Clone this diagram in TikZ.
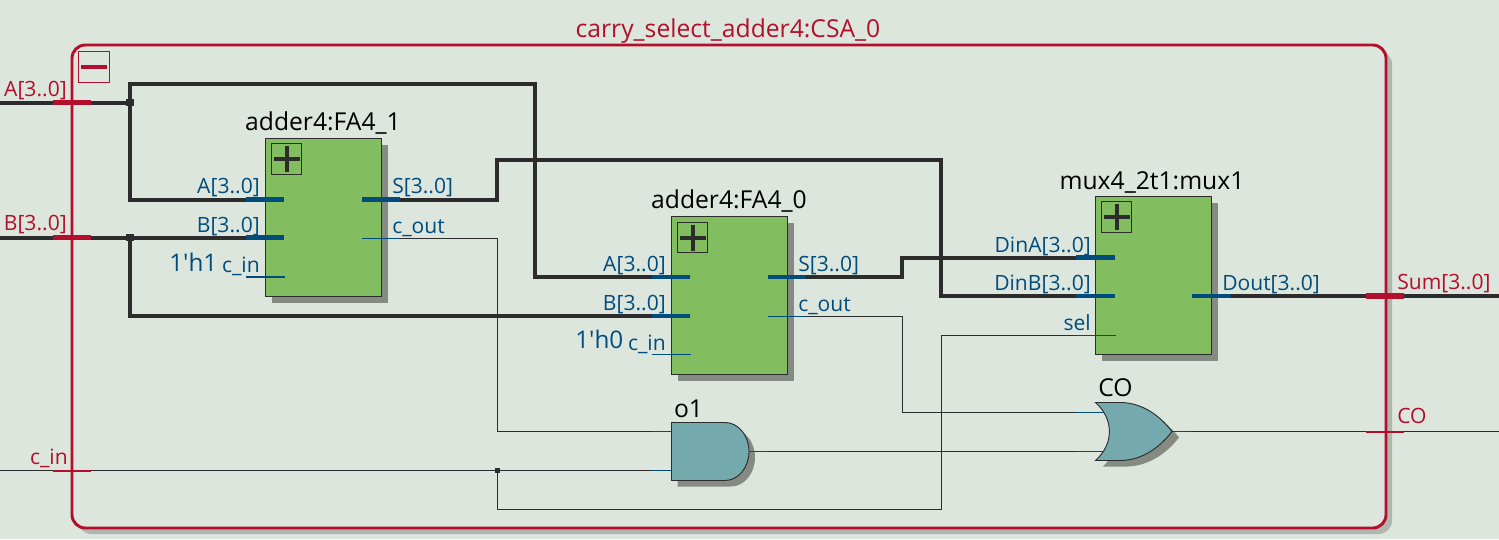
\documentclass[tikz,border=0pt]{standalone}
\usepackage{fontspec}
\setmainfont{Open Sans}
\usetikzlibrary{shadows}
\definecolor{sheetbg}{HTML}{DDE6DD}
\definecolor{framered}{HTML}{B30F2D}
\definecolor{wiredark}{HTML}{2C2C2C}
\definecolor{portblue}{HTML}{004C7C}
\definecolor{blockgreen}{HTML}{82BE5F}
\definecolor{gateteal}{HTML}{74AAAD}
\definecolor{shadowgray}{HTML}{858A82}
\definecolor{frameshadow}{HTML}{B0B6B0}
\tikzset{
    bus/.style={wiredark, line width=3pt},
    net/.style={wiredark, line width=0.8pt},
    busport/.style={portblue, line width=3.4pt},
    netport/.style={portblue, line width=0.8pt},
    redbus/.style={framered, line width=3.8pt},
    rednet/.style={framered, line width=1.5pt},
    joint/.style={fill=wiredark, inner sep=0pt, minimum size=5.4pt},
    smalljoint/.style={fill=wiredark, inner sep=0pt, minimum size=3.8pt},
    blockbox/.style={draw=wiredark, line width=0.9pt, fill=blockgreen, minimum width=87pt, minimum height=118.5pt, inner sep=0pt,
        drop shadow={shadow xshift=4.8pt, shadow yshift=-4.8pt, fill=shadowgray, opacity=1}},
    plusbox/.style={draw=wiredark, line width=0.7pt, minimum size=23pt, inner sep=0pt},
    blocktitle/.style={anchor=base, inner sep=0pt, font=\fontsize{18.5}{21}\selectfont},
    redlabel/.style={inner sep=0pt, text=framered, font=\fontsize{15.8}{18}\selectfont},
    bluelabel/.style={inner sep=0pt, text=portblue, font=\fontsize{15.8}{18}\selectfont},
    constlabel/.style={inner sep=0pt, text=portblue, anchor=base west, font=\fontsize{18.2}{21}\selectfont}
}
\begin{document}
\begin{tikzpicture}[x=0.75pt, y=-0.75pt, line join=miter]
    \useasboundingbox[fill=sheetbg] (0,0) rectangle (1499,539);
    % frame
    \fill[frameshadow, rounded corners=10pt] (78,51) rectangle (1392,534);
    \draw[framered, line width=2.2pt, fill=sheetbg, rounded corners=10pt] (72,45) rectangle (1386,528);
    \node[blocktitle, text=framered] (title) at (728,37) {carry\_select\_adder4:CSA\_0};
    \node[draw=framered, line width=0.7pt, minimum size=23.5pt, inner sep=0pt] (collapse) at (94,67) {};
    \draw[framered, line width=3pt] (81,67) -- (107,67);

    % pins and points on the wires
    \coordinate (Ain) at (0,102.5);
    \coordinate (Bin) at (0,237.5);
    \coordinate (Cin) at (0,470.5);
    \coordinate (SumOut) at (1499,296);
    \coordinate (COOut) at (1499,431.5);
    \coordinate (fa1A) at (284,199.5);
    \coordinate (fa1B) at (284,237.5);
    \coordinate (fa1Co) at (362,238.5);
    \coordinate (fa1S) at (362,199.5);
    \coordinate (fa0A) at (690,277);
    \coordinate (fa0B) at (690,316);
    \coordinate (fa0S) at (768,277);
    \coordinate (fa0Co) at (768,316.5);
    \coordinate (muxA) at (1115,257.5);
    \coordinate (muxB) at (1115,296);
    \coordinate (muxSel) at (1116,335.5);
    \coordinate (muxOut) at (1192,296);
    \coordinate (andA) at (672,431.5);
    \coordinate (andB) at (672,470.5);
    \coordinate (andOut) at (749,451.5);
    \coordinate (orA) at (1104,412.5);
    \coordinate (orB) at (1104,451.5);
    \coordinate (orOut) at (1172,431.5);

    % wires
    \node[joint] (jA) at (130,102.5) {};
    \node[joint] (jB) at (130,237.5) {};
    \node[smalljoint] (jC) at (497.5,470.5) {};
    \draw[bus] (Ain) -- (jA.center);
    \draw[bus] (jA.center) -- (130,199.5) -- (fa1A);
    \draw[bus] (jA.center) -- (130,84) -- (535,84) -- (535,277) -- (fa0A);
    \draw[bus] (Bin) -- (fa1B);
    \draw[bus] (jB.center) -- (130,316) -- (fa0B);
    \draw[bus] (fa1S) -- (497,199.5) -- (497,160) -- (941,160) -- (941,296) -- (muxB);
    \draw[bus] (fa0S) -- (902,277) -- (902,257.5) -- (muxA);
    \draw[bus] (muxOut) -- (SumOut);
    \draw[net] (fa1Co) -- (497.5,238.5) -- (497.5,431.5) -- (andA);
    \draw[net] (fa0Co) -- (902.5,316.5) -- (902.5,412.5) -- (orA);
    \draw[net] (Cin) -- (andB);
    \draw[net] (jC.center) -- (497.5,509.5) -- (941.5,509.5) -- (941.5,335.5) -- (muxSel);
    \draw[net] (andOut) -- (orB);
    \draw[net] (orOut) -- (COOut);

    % blocks
    \node[blockbox] (FAone) at (323.5,217.5) {};
    \node[blockbox] (FAzero) at (729.5,295.5) {};
    \node[blockbox] (mux) at (1153.5,275.5) {};
    \foreach \blk/\px/\py in {FAone/286.5/159, FAzero/692.5/237.5, mux/1116.5/217} {
        \node[plusbox] (plus\blk) at (\px,\py) {};
        \draw[wiredark, line width=3pt] (\px-13,\py) -- (\px+13,\py);
        \draw[wiredark, line width=3pt] (\px,\py-13) -- (\px,\py+13);
    }

    % gates
    \fill[shadowgray] (677.5,428.5) -- (731,428.5) arc (-90:90:24 and 29) -- (677.5,486.5) -- cycle;
    \draw[wiredark, line width=0.7pt, fill=gateteal] (671.5,422.5) -- (725,422.5) arc (-90:90:24 and 29) -- (671.5,480.5) -- cycle;
    \fill[shadowgray] (1103,408.5) -- (1127,408.5) .. controls (1149,409) and (1167,422) .. (1179,437.5) .. controls (1167,453) and (1149,466) .. (1127,466.5) -- (1103,466.5) .. controls (1120,450) and (1120,425) .. cycle;
    \draw[wiredark, line width=0.7pt, fill=gateteal] (1095.5,402.5) -- (1121,402.5) .. controls (1143,403) and (1160,416) .. (1172,431.5) .. controls (1160,447) and (1143,460) .. (1121,460.5) -- (1095.5,460.5) .. controls (1114,444) and (1114,419) .. cycle;

    % pin stubs
    \draw[busport] (246,199.5) -- (fa1A);
    \draw[busport] (246,237.5) -- (fa1B);
    \draw[busport] (fa1S) -- (400,199.5);
    \draw[netport] (246,277) -- (285,277);
    \draw[netport] (fa1Co) -- (400,238.5);
    \draw[busport] (652,277) -- (fa0A);
    \draw[busport] (652,316) -- (fa0B);
    \draw[busport] (fa0S) -- (806,277);
    \draw[netport] (652,354.5) -- (691,354.5);
    \draw[netport] (fa0Co) -- (806,316.5);
    \draw[busport] (1076,257.5) -- (muxA);
    \draw[busport] (1076,296) -- (muxB);
    \draw[netport] (1076,335.5) -- (muxSel);
    \draw[busport] (muxOut) -- (1231,296);
    \draw[netport] (652,431.5) -- (andA);
    \draw[netport] (652,470.5) -- (andB);
    \draw[netport] (andOut) -- (768,451.5);
    \draw[netport] (1076,412.5) -- (orA);
    \draw[netport] (1076,451.5) -- (orB);
    \draw[netport] (orOut) -- (1191,431.5);
    \draw[redbus] (53,102.5) -- (91,102.5);
    \draw[redbus] (53,237.5) -- (91,237.5);
    \draw[rednet] (53,470.5) -- (91,470.5);
    \draw[redbus] (1366,296) -- (1404,296);
    \draw[rednet] (1366,431.5) -- (1404,431.5);

    % labels
    \node[redlabel, anchor=base east] (lblA) at (67,96) {A[3..0]};
    \node[redlabel, anchor=base east] (lblB) at (67,230) {B[3..0]};
    \node[redlabel, anchor=base east] (lblC) at (68,464) {c\_in};
    \node[redlabel, anchor=base west] (lblSum) at (1397,289) {Sum[3..0]};
    \node[redlabel, anchor=base west] (lblCO) at (1397,423) {CO};
    \node[blocktitle] (nameFAone) at (323,130) {adder4:FA4\_1};
    \node[blocktitle] (nameFAzero) at (729,208) {adder4:FA4\_0};
    \node[blocktitle] (namemux) at (1152,189) {mux4\_2t1:mux1};
    \node[blocktitle] (nameor) at (1115.5,396) {CO};
    \node[blocktitle] (nameand) at (688.5,417) {o1};
    \node[bluelabel, anchor=base east] (fa1Atxt) at (260,193) {A[3..0]};
    \node[bluelabel, anchor=base east] (fa1Btxt) at (260,232) {B[3..0]};
    \node[bluelabel, anchor=base east] (fa1Ctxt) at (260,272) {c\_in};
    \node[bluelabel, anchor=base west] (fa1Stxt) at (392,193) {S[3..0]};
    \node[bluelabel, anchor=base west] (fa1Otxt) at (392,233) {c\_out};
    \node[constlabel] (fa1const) at (169,271) {1\textquotesingle h1};
    \node[bluelabel, anchor=base east] (fa0Atxt) at (666,271) {A[3..0]};
    \node[bluelabel, anchor=base east] (fa0Btxt) at (666,310) {B[3..0]};
    \node[bluelabel, anchor=base east] (fa0Ctxt) at (666,350) {c\_in};
    \node[bluelabel, anchor=base west] (fa0Stxt) at (798,271) {S[3..0]};
    \node[bluelabel, anchor=base west] (fa0Otxt) at (798,311) {c\_out};
    \node[constlabel] (fa0const) at (575,348.5) {1\textquotesingle h0};
    \node[bluelabel, anchor=base east] (muxAtxt) at (1091,252) {DinA[3..0]};
    \node[bluelabel, anchor=base east] (muxBtxt) at (1091,290) {DinB[3..0]};
    \node[bluelabel, anchor=base east] (muxStxt) at (1091,330) {sel};
    \node[bluelabel, anchor=base west] (muxOtxt) at (1222,290.5) {Dout[3..0]};
\end{tikzpicture}
\end{document}
